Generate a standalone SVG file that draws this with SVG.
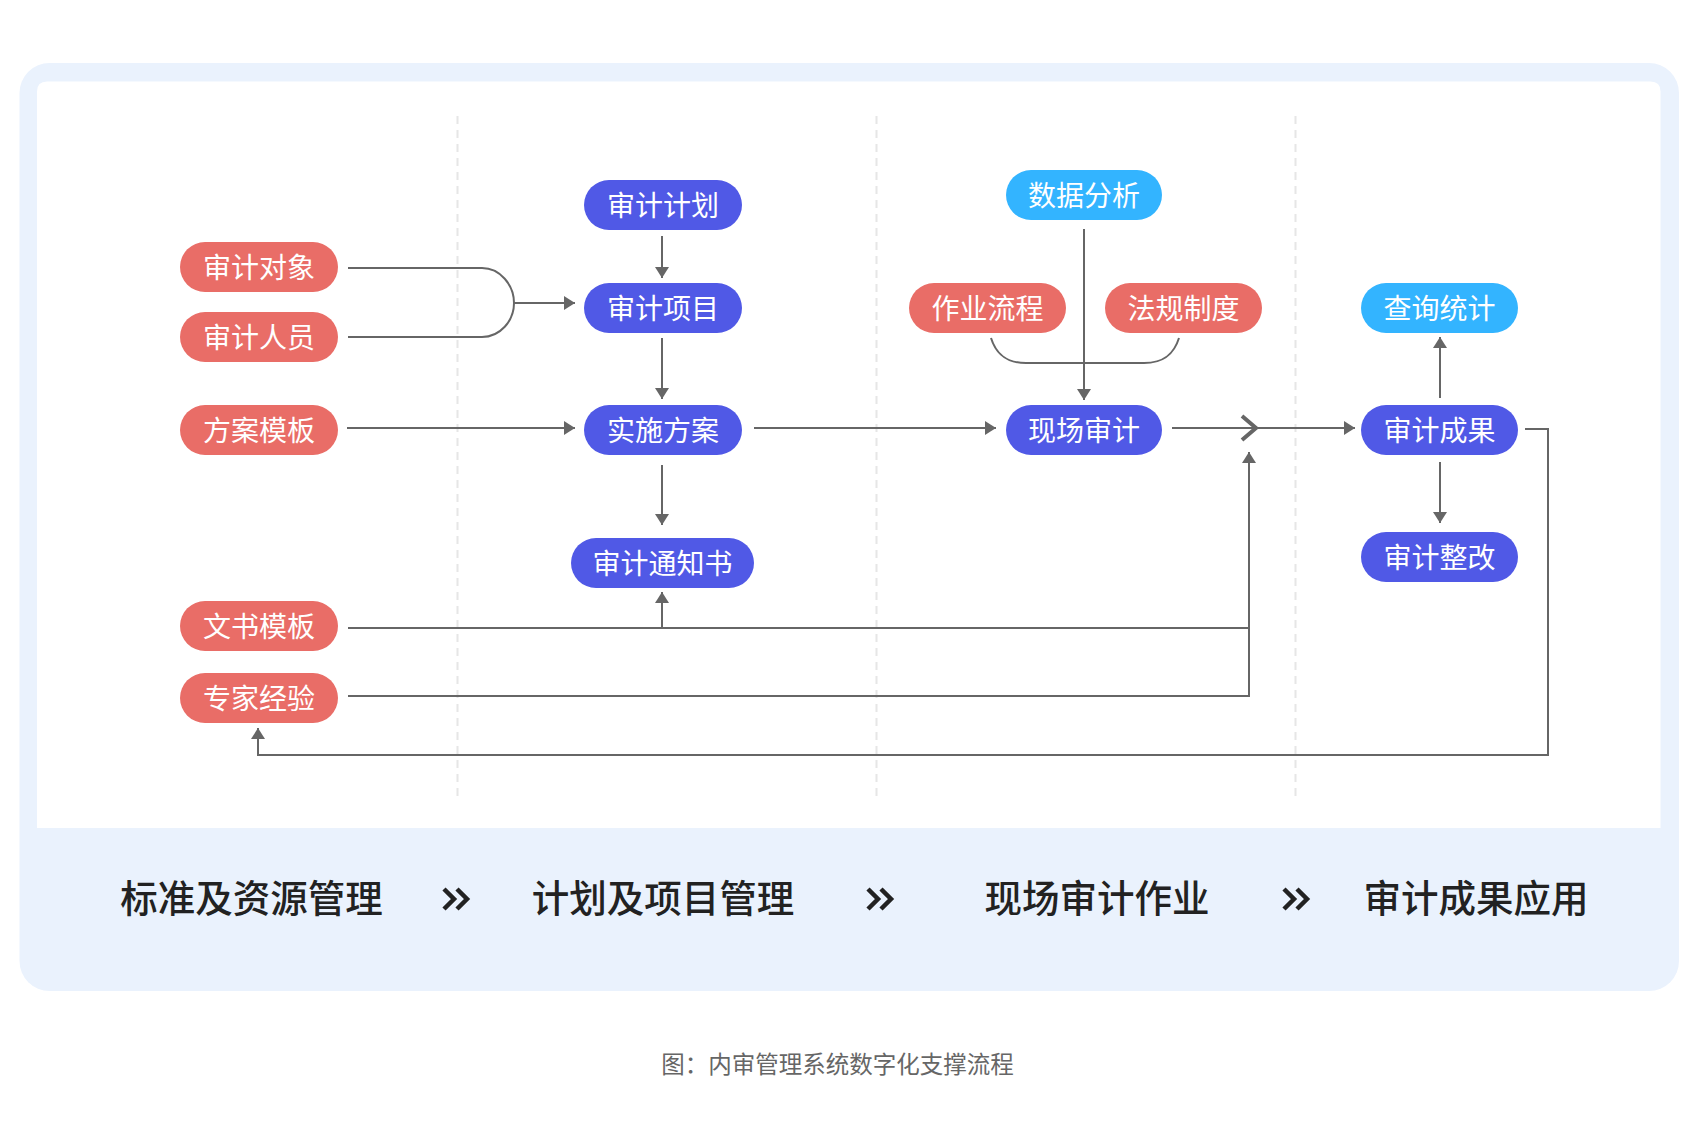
<svg xmlns="http://www.w3.org/2000/svg" width="1704" height="1131" viewBox="0 0 1704 1131">
<style>
.n text{font-family:"Noto Sans CJK SC","Noto Sans",sans-serif;font-size:28px;fill:#fff;text-anchor:middle;dominant-baseline:central}
.red rect{fill:#E96D67}
.ind rect{fill:#5059E6}
.cy rect{fill:#33B4FF}
.c path{fill:none;stroke:#666;stroke-width:2}
.stage{font-family:"Noto Sans CJK SC","Noto Sans",sans-serif;font-size:37.5px;font-weight:500;fill:#222;text-anchor:middle;dominant-baseline:central}
.chev{fill:none;stroke:#222;stroke-width:4.5;stroke-linejoin:miter}
.dash{stroke:#e6e6e6;stroke-width:2;stroke-dasharray:8 6}
</style>
<defs>
<marker id="ah" markerUnits="userSpaceOnUse" markerWidth="12" markerHeight="14" refX="11" refY="7" orient="auto">
<path d="M0,0 L11,7 L0,14 z" fill="#666"/>
</marker>
</defs>
<rect width="1704" height="1131" fill="#fff"/>
<rect x="19.5" y="63" width="1659.5" height="928" rx="30" fill="#EAF2FD"/>
<path d="M47,81.5 H1650.5 Q1660.5,81.5 1660.5,91.5 V828 H37 V91.5 Q37,81.5 47,81.5 Z" fill="#fff"/>
<g id="lanes">
<line class="dash" x1="457.5" y1="116" x2="457.5" y2="796"/>
<line class="dash" x1="876.5" y1="116" x2="876.5" y2="796"/>
<line class="dash" x1="1295.5" y1="116" x2="1295.5" y2="796"/>
</g>
<g id="connectors" class="c">
<path d="M348,268 H482 C500,268 514,285 514,303 C514,321 500,337 482,337 H348"/>
<path d="M514,303 H575" marker-end="url(#ah)"/>
<path d="M347,428 H575" marker-end="url(#ah)"/>
<path d="M662,236 V278" marker-end="url(#ah)"/>
<path d="M662,338 V399" marker-end="url(#ah)"/>
<path d="M662,465 V525" marker-end="url(#ah)"/>
<path d="M754,428 H996" marker-end="url(#ah)"/>
<path d="M1084,229 V400" marker-end="url(#ah)"/>
<path d="M991,338 C996,354 1006,363 1026,363 H1144 C1164,363 1174,354 1179,338"/>
<path d="M1172,428 H1355" marker-end="url(#ah)"/>
<path d="M1242,416 L1256,428 L1242,440" style="stroke-width:4"/>
<path d="M348,628 H1249"/>
<path d="M662,628 V592" marker-end="url(#ah)"/>
<path d="M348,696 H1249 V452" marker-end="url(#ah)"/>
<path d="M1440,462 V523" marker-end="url(#ah)"/>
<path d="M1440,398 V337" marker-end="url(#ah)"/>
<path d="M1525,429 H1548 V755 H258 V728" marker-end="url(#ah)"/>
</g>
<g id="n-duixiang" class="n red"><rect x="180" y="242" width="158" height="50" rx="25"/><text x="259" y="266">审计对象</text></g>
<g id="n-renyuan" class="n red"><rect x="180" y="312" width="158" height="50" rx="25"/><text x="259" y="336">审计人员</text></g>
<g id="n-fangan" class="n red"><rect x="180" y="405" width="158" height="50" rx="25"/><text x="259" y="429">方案模板</text></g>
<g id="n-wenshu" class="n red"><rect x="180" y="601" width="158" height="50" rx="25"/><text x="259" y="625">文书模板</text></g>
<g id="n-zhuanjia" class="n red"><rect x="180" y="673" width="158" height="50" rx="25"/><text x="259" y="697">专家经验</text></g>
<g id="n-jihua" class="n ind"><rect x="584" y="180" width="158" height="50" rx="25"/><text x="663" y="204">审计计划</text></g>
<g id="n-xiangmu" class="n ind"><rect x="584" y="283" width="158" height="50" rx="25"/><text x="663" y="307">审计项目</text></g>
<g id="n-shishi" class="n ind"><rect x="584" y="405" width="158" height="50" rx="25"/><text x="663" y="429">实施方案</text></g>
<g id="n-tongzhi" class="n ind"><rect x="571" y="538" width="183" height="50" rx="25"/><text x="662.5" y="562">审计通知书</text></g>
<g id="n-shuju" class="n cy"><rect x="1006" y="170" width="156" height="50" rx="25"/><text x="1084" y="194">数据分析</text></g>
<g id="n-zuoye" class="n red"><rect x="909" y="283" width="157" height="50" rx="25"/><text x="987.5" y="307">作业流程</text></g>
<g id="n-fagui" class="n red"><rect x="1105" y="283" width="157" height="50" rx="25"/><text x="1183.5" y="307">法规制度</text></g>
<g id="n-xianchang" class="n ind"><rect x="1006" y="405" width="156" height="50" rx="25"/><text x="1084" y="429">现场审计</text></g>
<g id="n-chaxun" class="n cy"><rect x="1361" y="283" width="157" height="50" rx="25"/><text x="1439.5" y="307">查询统计</text></g>
<g id="n-chengguo" class="n ind"><rect x="1361" y="405" width="157" height="50" rx="25"/><text x="1439.5" y="429">审计成果</text></g>
<g id="n-zhenggai" class="n ind"><rect x="1361" y="532" width="157" height="50" rx="25"/><text x="1439.5" y="556">审计整改</text></g>
<g id="stages">
<text class="stage" x="251.5" y="895">标准及资源管理</text>
<text class="stage" x="663" y="895">计划及项目管理</text>
<text class="stage" x="1097" y="895">现场审计作业</text>
<text class="stage" x="1476" y="895">审计成果应用</text>
<path class="chev" d="M444,889 L454,899 L444,909 M457,889 L467,899 L457,909"/>
<path class="chev" d="M868,889 L878,899 L868,909 M881,889 L891,899 L881,909"/>
<path class="chev" d="M1284,889 L1294,899 L1284,909 M1297,889 L1307,899 L1297,909"/>
</g>
<text x="837.5" y="1063" font-family="'Noto Sans CJK SC','Noto Sans',sans-serif" font-size="23.5" fill="#666" text-anchor="middle" dominant-baseline="central">图：内审管理系统数字化支撑流程</text>
</svg>
